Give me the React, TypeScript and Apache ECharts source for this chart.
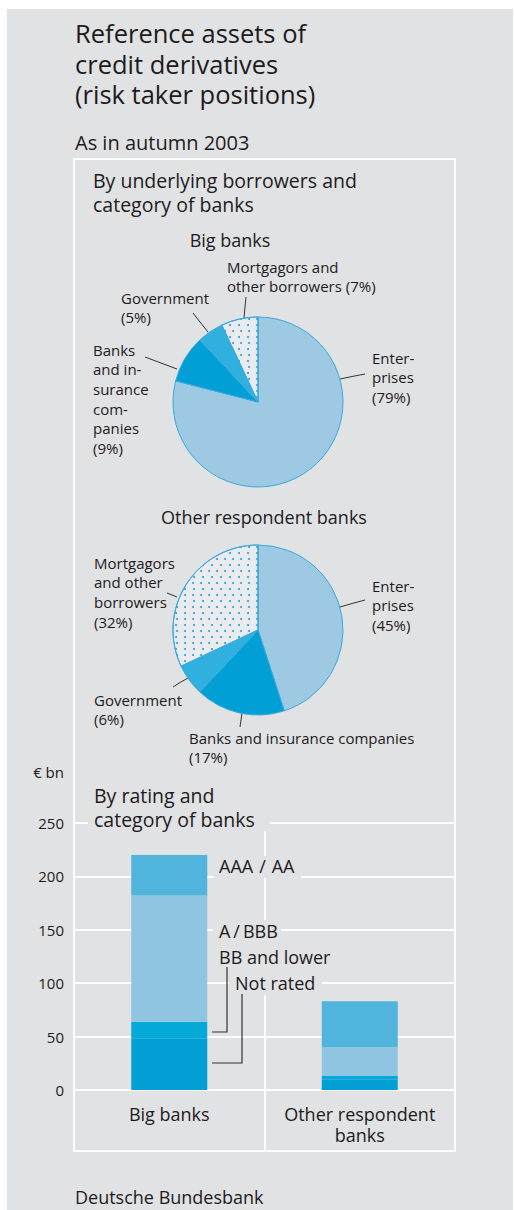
import React, { useEffect, useRef } from "react";
import * as echarts from "echarts";

// ---------- data ----------
const pieCategories = [
  "Enterprises",
  "Banks and insurance companies",
  "Government",
  "Mortgagors and other borrowers",
];
const bigBankShares = [79, 9, 5, 7];
const otherBankShares = [45, 17, 6, 32];
const bigBankLabels = [
  "Enter-\nprises\n(#%)",
  "Banks\nand in-\nsurance\ncom-\npanies\n(#%)",
  "Government\n(#%)",
  "Mortgagors and\nother borrowers (#%)",
];
const otherBankLabels = [
  "Enter-\nprises\n(#%)",
  "Banks and insurance companies\n(#%)",
  "Government\n(#%)",
  "Mortgagors\nand other\nborrowers\n(#%)",
];

const barCategories = ["Big banks", "Other respondent\nbanks"];
const ratingNames = ["Not rated", "BB and lower", "A\u2009/\u2009BBB", "AAA\u2004/\u2004AA"];
const notRated = [48, 10];
const bbAndLower = [16, 3];
const aToBbb = [118, 27];
const aaaToAa = [38, 43];
const yMin = 0;
const yMax = 250;
const yStep = 50;

// ---------- styling / layout ----------
const FONT = "'Open Sans', 'Noto Sans', sans-serif";
const TXT = "#1e1b1c";
const BG = "#e1e2e4";
const pieColors = ["#9dcae2", "#00a0d6", "#30b0de", "#e9ebee"];
const barColors = ["#029fd5", "#04a9d9", "#8fc5e1", "#50b4dc"];

const pie1LabelPos = [[372, 348], [93, 340], [121, 288], [227, 257]];
const pie1Lines = [
  [[340, 379], [352, 376.5], [365, 374]],
  [[177, 369], [161, 363], [145, 357]],
  [[208, 332], [200, 322], [193, 313]],
  [[244, 318], [245, 307], [246, 297]],
];
const pie2LabelPos = [[372, 576], [189, 728], [94, 690], [94, 553]];
const pie2Lines = [
  [[340, 607], [352, 603.5], [365, 600]],
  [[242, 713], [241, 720], [240, 727]],
  [[188, 678], [180, 682.5], [173, 687]],
  [[177, 597], [172, 595], [167, 593]],
];

function makePie(center: number[], shares: number[], labels: string[], pos: number[][], lines: number[][][]) {
  return {
    type: "pie",
    center,
    radius: 85,
    startAngle: 90,
    clockwise: true,
    silent: true,
    avoidLabelOverlap: false,
    data: pieCategories.map((name, i) => ({
      name,
      value: shares[i],
      itemStyle:
        i === 3
          ? {
              color: pieColors[i],
              decal: {
                symbol: "circle",
                symbolSize: 1,
                color: "#2a9fd8",
                backgroundColor: null,
                dashArrayX: [[1.4, 6], [0, 3.7, 1.4, 2.3]],
                dashArrayY: [1.4, 3.4],
                rotation: 0,
              },
            }
          : { color: pieColors[i] },
    })),
    itemStyle: { borderColor: "#3aa8de", borderWidth: 1 },
    label: {
      show: true,
      position: "outside",
      formatter: (p: any) => labels[p.dataIndex].replace("#", String(p.value)),
      fontFamily: FONT,
      fontSize: 15,
      lineHeight: 19.6,
      color: TXT,
    },
    labelLine: { show: true, lineStyle: { color: "#333", width: 1 } },
    labelLayout: (p: any) => {
      const i = p.dataIndex;
      return {
        x: pos[i][0],
        y: pos[i][1],
        align: "left",
        verticalAlign: "top",
        labelLinePoints: lines[i],
      };
    },
  };
}

function txt(text: string, x: number, y: number, size: number, extra: any = {}) {
  return {
    type: "text",
    z: 5,
    style: {
      text,
      x,
      y,
      fill: TXT,
      fontFamily: FONT,
      fontSize: size,
      verticalAlign: "middle",
      align: "left",
      ...extra,
    },
  };
}
function mask(x: number, y: number, w: number, h: number) {
  return { type: "rect", z: 1, shape: { x, y, width: w, height: h }, style: { fill: BG } };
}
function wline(x1: number, y1: number, x2: number, y2: number) {
  return { type: "line", z: 0, shape: { x1, y1, x2, y2 }, style: { stroke: "#fff", lineWidth: 2 } };
}

export default function App() {
  const ref = useRef<HTMLDivElement>(null);
  useEffect(() => {
    if (!ref.current) return;
    const chart = echarts.init(ref.current, null, { renderer: "svg" });
    const seriesData = [notRated, bbAndLower, aToBbb, aaaToAa];
    chart.setOption({
      animation: false,
      textStyle: { fontFamily: FONT },
      grid: { left: 74, right: 59, top: 823, bottom: 120 },
      xAxis: {
        type: "category",
        data: barCategories,
        boundaryGap: true,
        axisLine: { show: true, lineStyle: { color: "#fff", width: 2 } },
        axisTick: { show: true, length: 61, interval: 0, lineStyle: { color: "#fff", width: 2 } },
        splitLine: { show: true, interval: 0, lineStyle: { color: "#fff", width: 2 } },
        axisLabel: { interval: 0, fontSize: 18, lineHeight: 21.6, color: TXT, margin: 13, fontFamily: FONT },
      },
      yAxis: {
        type: "value",
        min: yMin,
        max: yMax,
        interval: yStep,
        axisLine: { show: false },
        axisTick: { show: false },
        splitLine: { show: true, lineStyle: { color: "#fff", width: 2 } },
        axisLabel: { fontSize: 15, color: TXT, margin: 10, fontFamily: FONT },
      },
      series: [
        ...seriesData.map((d, i) => ({
          type: "bar",
          name: ratingNames[i],
          stack: "rating",
          data: d,
          barWidth: 76,
          silent: true,
          itemStyle: { color: barColors[i] },
        })),
        makePie([258, 402], bigBankShares, bigBankLabels, pie1LabelPos, pie1Lines),
        makePie([258, 630], otherBankShares, otherBankLabels, pie2LabelPos, pie2Lines),
      ],
      graphic: {
        elements: [
          wline(73, 159, 456, 159),
          wline(74, 158, 74, 1152),
          wline(455, 158, 455, 1152),
          wline(73, 1151, 456, 1151),
          mask(88, 782, 182, 49),
          mask(214, 856, 87, 22),
          mask(213, 920, 68, 24),
          mask(213, 944, 123, 26),
          mask(229, 970, 93, 25),
          txt("Reference assets of\ncredit derivatives\n(risk taker positions)", 75, 17.7, 25.5, {
            verticalAlign: "top",
            lineHeight: 30.6,
          }),
          txt("As in autumn 2003", 75, 142, 20),
          txt("By underlying borrowers and\ncategory of banks", 93, 168, 19.5, {
            verticalAlign: "top",
            lineHeight: 24.5,
          }),
          txt("Big banks", 230, 240, 18, { align: "center" }),
          txt("Other respondent banks", 264, 517, 18, { align: "center" }),
          txt("\u20ac bn", 64, 772, 15, { align: "right" }),
          txt("By rating and\ncategory of banks", 94, 783, 19.5, { verticalAlign: "top", lineHeight: 24.5 }),
          txt(ratingNames[3], 219, 866, 18),
          txt(ratingNames[2], 219, 931, 18),
          txt(ratingNames[1], 219, 957, 18),
          txt(ratingNames[0], 235, 983, 18),
          {
            type: "polyline",
            z: 5,
            shape: { points: [[212, 1032], [227, 1032], [227, 967]] },
            style: { stroke: "#333", lineWidth: 1.2, fill: null },
          },
          {
            type: "polyline",
            z: 5,
            shape: { points: [[212, 1063], [242, 1063], [242, 994]] },
            style: { stroke: "#333", lineWidth: 1.2, fill: null },
          },
          txt("Deutsche Bundesbank", 75, 1197, 18),
        ],
      },
    });
    return () => chart.dispose();
  }, []);
  return (
    <div style={{ position: "absolute", left: 0, top: 0, width: 514, height: 1210, background: "#fff" }}>
      <div style={{ position: "absolute", left: 7, top: 9, width: 506, height: 1201, background: BG }} />
      <div ref={ref} style={{ position: "absolute", left: 0, top: 0, width: 514, height: 1210 }} />
    </div>
  );
}
